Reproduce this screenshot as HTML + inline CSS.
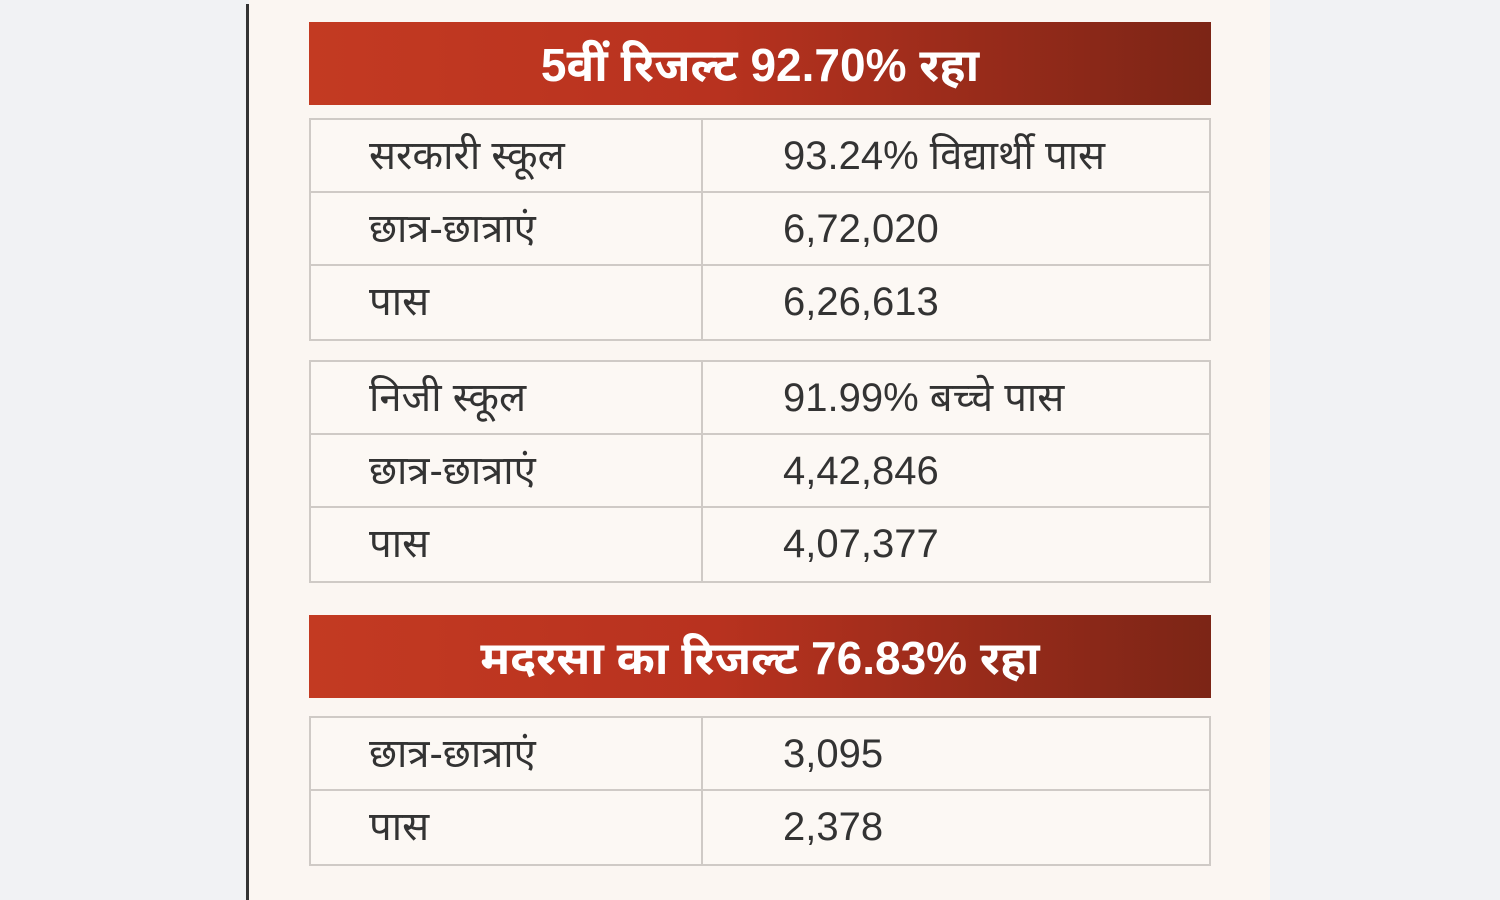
<!DOCTYPE html>
<html><head><meta charset="utf-8"><style>
*{margin:0;padding:0;box-sizing:border-box}
body{width:1500px;height:900px;background:#f1f2f4;position:relative;overflow:hidden;font-family:"Liberation Sans","Noto Sans Devanagari","Lohit Devanagari",sans-serif}
.panel{position:absolute;left:249px;top:0;width:1021px;height:900px;background:#fbf6f2}
.vline{position:absolute;left:246px;top:4px;width:3px;height:896px;background:#333}
.hdr{position:absolute;left:309px;width:902px;height:83px;background:linear-gradient(90deg,#c33a22 0%,#b8321f 45%,#7c2516 100%);color:#fff;font-weight:bold;font-size:46px;text-align:center;line-height:86px}
.tbl{position:absolute;left:309px;width:902px;border:2px solid #cfcac6;background:#fcf8f4}
.row{height:73px;border-bottom:2px solid #cfcac6;display:flex;font-size:40px;color:#333;line-height:73px}
.row:last-child{border-bottom:none}
.c1{width:392px;border-right:2px solid #cfcac6;padding-left:58px}
.c2{padding-left:80px}
</style></head><body>
<div class="panel"></div>
<div class="vline"></div>
<div class="hdr" style="top:22px">5वीं रिजल्ट 92.70% रहा</div>
<div class="tbl" style="top:118px">
<div class="row"><div class="c1">सरकारी स्कूल</div><div class="c2">93.24% विद्यार्थी पास</div></div>
<div class="row"><div class="c1">छात्र-छात्राएं</div><div class="c2">6,72,020</div></div>
<div class="row"><div class="c1">पास</div><div class="c2">6,26,613</div></div>
</div>
<div class="tbl" style="top:360px">
<div class="row"><div class="c1">निजी स्कूल</div><div class="c2">91.99% बच्चे पास</div></div>
<div class="row"><div class="c1">छात्र-छात्राएं</div><div class="c2">4,42,846</div></div>
<div class="row"><div class="c1">पास</div><div class="c2">4,07,377</div></div>
</div>
<div class="hdr" style="top:615px">मदरसा का रिजल्ट 76.83% रहा</div>
<div class="tbl" style="top:716px">
<div class="row"><div class="c1">छात्र-छात्राएं</div><div class="c2">3,095</div></div>
<div class="row"><div class="c1">पास</div><div class="c2">2,378</div></div>
</div>
</body></html>
